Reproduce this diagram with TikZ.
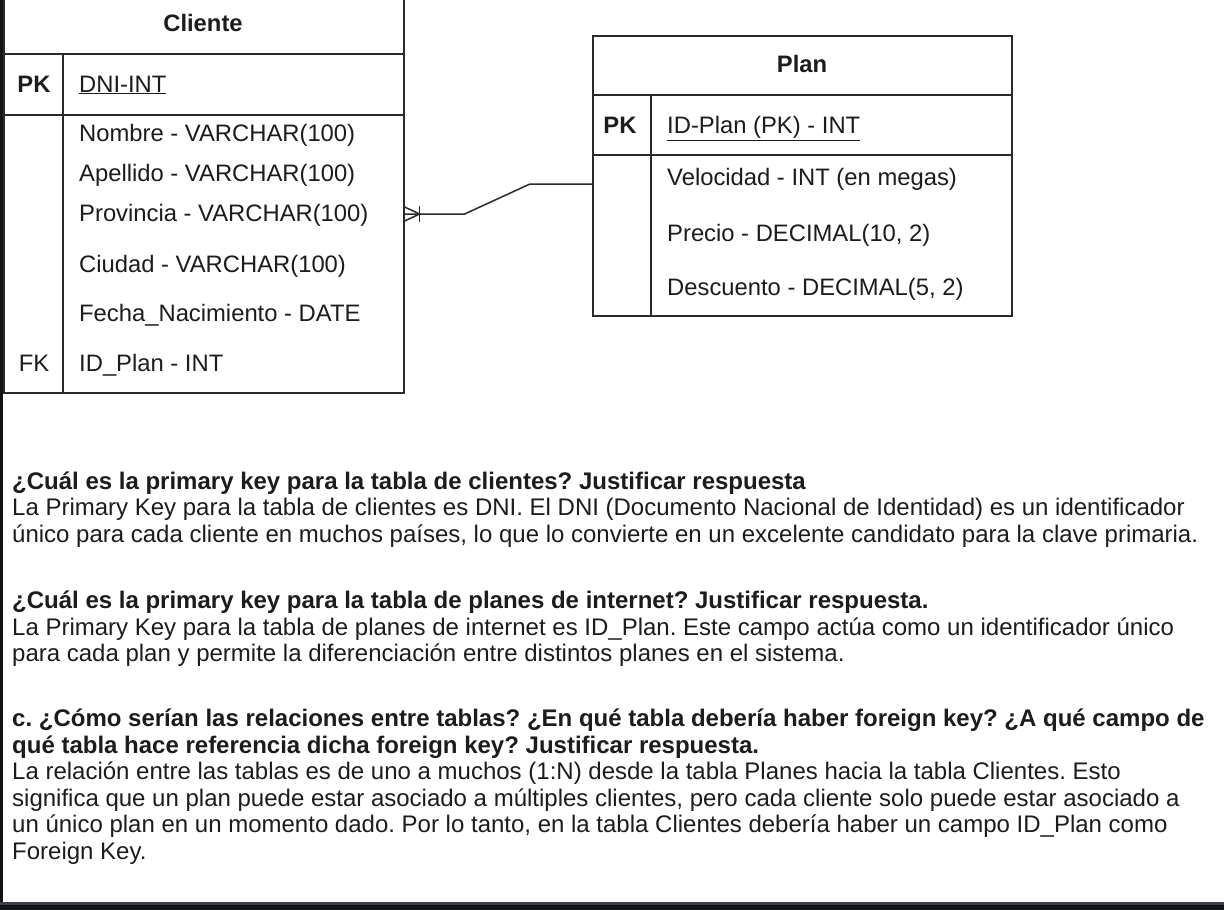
\documentclass[tikz,border=0pt]{standalone}
\usepackage{fontspec}
\setmainfont{Liberation Sans}
\frenchspacing
\usetikzlibrary{positioning,calc}
\definecolor{ink}{HTML}{1C1C1C}
\definecolor{edge}{HTML}{2A2A2A}
\definecolor{frame}{HTML}{121418}
\definecolor{framelite}{HTML}{3C4046}
\tikzset{tbl/.style={draw=edge, line width=1.6pt}}
\tikzset{rel/.style={draw=edge, line width=1.5pt}}
\tikzset{fld/.style={anchor=base west, inner sep=0pt, text=ink, font=\fontsize{23.8}{26}\selectfont}}
\tikzset{keyfld/.style={fld, anchor=base}}
\tikzset{ttl/.style={keyfld, font=\fontsize{23.8}{26}\selectfont\bfseries}}
\tikzset{para/.style={anchor=base west, inner sep=0pt, align=left, text=ink, font=\fontsize{24}{26.5}\selectfont}}

\begin{document}
\begin{tikzpicture}[x=1pt,y=-1pt]
				\useasboundingbox (0,0) rectangle (1224,910);
				\fill[white] (0,0) rectangle (1224,910);
				% dark window border
				\fill[frame] (0,0) rectangle (3,902);
				\fill[framelite] (0,902) rectangle (1224,905);
				\fill[frame] (0,905) rectangle (1224,910);
				%
				% table Cliente
				\node[tbl, inner sep=0pt, minimum width=400pt, minimum height=404pt, anchor=south west] (cliente) at (3,394) {};
				\draw[tbl] (3,54) -- (403,54);
				\draw[tbl] (3,115) -- (403,115);
				\draw[tbl] (63,54) -- (63,394);
				\node[ttl] (cl-title) at (203,31.5) {Cliente};
				\node[ttl] (cl-pk) at (34,92) {PK};
				\node[fld] (dni) at (79,92) {\underline{DNI-INT}};
				\node[fld] (nombre) at (79,141.5) {Nombre - VARCHAR(100)};
				\node[fld] (apellido) at (79,181.5) {Apellido - VARCHAR(100)};
				\node[fld] (prov) at (79,221.5) {Provincia - VARCHAR(100)};
				\node[fld] (ciudad) at (79,272) {Ciudad - VARCHAR(100)};
				\node[fld] (fecha) at (79,321.5) {Fecha\_Nacimiento - DATE};
				\node[keyfld] (cl-fk) at (34,371.5) {FK};
				\node[fld] (idplan) at (79,371.5) {ID\_Plan - INT};
				%
				% table Plan
				\node[tbl, inner sep=0pt, minimum width=419pt, minimum height=280pt, anchor=north west] (plan) at (592,35) {};
				\draw[tbl] (592,95) -- (1011,95);
				\draw[tbl] (592,155) -- (1011,155);
				\draw[tbl] (651,95) -- (651,315);
				\node[ttl] (pl-title) at (802,72) {Plan};
				\node[ttl] (pl-pk) at (620,133.5) {PK};
				\node[fld] (idpk) at (667,133.5) {\underline{ID-Plan (PK) - INT}};
				\node[fld] (veloc) at (667,185) {Velocidad - INT (en megas)};
				\node[fld] (precio) at (667,241.5) {Precio - DECIMAL(10, 2)};
				\node[fld] (desc) at (667,295) {Descuento - DECIMAL(5, 2)};
				%
				% relation Plan 1 -- N Cliente
				\coordinate (cl-end) at (cliente.east |- 0,214);
				\coordinate (pl-end) at (plan.west |- 0,184);
				\draw[rel] (cl-end) -- ++(60,0) -- ($(pl-end)+(-62,0)$) -- (pl-end);
				\draw[rel] ($(cl-end)+(0,-7)$) -- ($(cl-end)+(15,0)$) -- ($(cl-end)+(0,7)$);
				\draw[rel] ($(cl-end)+(15,-8)$) -- ($(cl-end)+(15,8)$);
				%
				% questions and answers (anchored at the last baseline)
				\node[para] (q1) at (12,542) {\textbf{¿Cuál es la primary key para la tabla de clientes? Justificar respuesta}\\
					La Primary Key para la tabla de clientes es DNI. El DNI (Documento Nacional de Identidad) es un identificador\\
					único para cada cliente en muchos países, lo que lo convierte en un excelente candidato para la clave primaria.};
				\node[para] (q2) at (12,661.5) {\textbf{¿Cuál es la primary key para la tabla de planes de internet? Justificar respuesta.}\\
					La Primary Key para la tabla de planes de internet es ID\_Plan. Este campo actúa como un identificador único\\
					para cada plan y permite la diferenciación entre distintos planes en el sistema.};
				\node[para] (q3) at (12,859) {\textbf{c. ¿Cómo serían las relaciones entre tablas? ¿En qué tabla debería haber foreign key? ¿A qué campo de}\\
					\textbf{qué tabla hace referencia dicha foreign key? Justificar respuesta.}\\
					La relación entre las tablas es de uno a muchos (1:N) desde la tabla Planes hacia la tabla Clientes. Esto\\
					significa que un plan puede estar asociado a múltiples clientes, pero cada cliente solo puede estar asociado a\\
					un único plan en un momento dado. Por lo tanto, en la tabla Clientes debería haber un campo ID\_Plan como\\
					Foreign Key.};
			\end{tikzpicture}
\end{document}
